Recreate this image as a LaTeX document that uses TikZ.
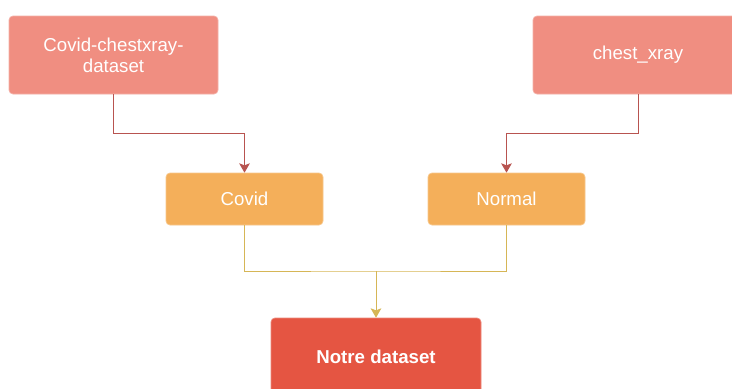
\documentclass[tikz,border=0pt]{standalone}
\usepackage{fontspec}
\setmainfont{Liberation Sans}
\usepackage{tikz}
\usetikzlibrary{arrows.meta,calc}
\definecolor{srcfill}{HTML}{F08E81}
\definecolor{clsfill}{HTML}{F4AF5A}
\definecolor{outfill}{HTML}{E55542}
\definecolor{redline}{HTML}{B85450}
\definecolor{yelline}{HTML}{D6B656}
\tikzset{
  srcbox/.style={draw=srcfill!70!white,fill=srcfill,line width=0.5pt,
                 rounded corners=3pt,minimum width=156.75pt,minimum height=58.5pt,
                 align=center,text=white,font=\fontsize{14}{16}\selectfont},
  clsbox/.style={draw=clsfill!70!white,fill=clsfill,line width=0.5pt,
                 rounded corners=3pt,minimum width=117.75pt,minimum height=39pt,
                 align=center,text=white,font=\fontsize{14}{16}\selectfont},
  outbox/.style={draw=outfill!70!white,fill=outfill,line width=0.5pt,
                 rounded corners=3pt,minimum width=157.5pt,minimum height=58.5pt,
                 align=center,text=white,font=\fontsize{14}{16}\selectfont\bfseries},
  redarr/.style={-{Stealth[length=7pt,width=8pt,inset=1.5pt]},line width=0.75pt,color=redline},
  yelwire/.style={line width=0.75pt,color=yelline},
  yelarr/.style={-{Stealth[length=7pt,width=8pt,inset=1.5pt]},line width=0.75pt,color=yelline}
}
\begin{document}
\begin{tikzpicture}[x=0.75pt,y=-0.75pt]
  \clip (0,0) rectangle (732,389);
  \fill[white] (0,0) rectangle (732,389);

  % sources
  \node[srcbox] (covidsrc) at (113.5,55) {Covid-chestxray-\\dataset};
  \node[srcbox,minimum width=157.5pt] (xraysrc) at (638,55) {chest\_xray};

  % classes
  \node[clsbox] (covid) at (244.5,199) {Covid};
  \node[clsbox] (normal) at (506.5,199) {Normal};

  % result
  \node[outbox] (notre) at (376,357) {Notre dataset};

  \draw[redarr] (covidsrc.south) -- ++(0,39) -| (covid.north);
  \draw[redarr] (xraysrc.south) -- ++(0,39) -| (normal.north);

  \coordinate (join) at (376,271);
  \draw[yelwire] (covid.south) |- (join) -| (normal.south);
  \draw[yelarr] (join) -- (notre.north);
\end{tikzpicture}
\end{document}
